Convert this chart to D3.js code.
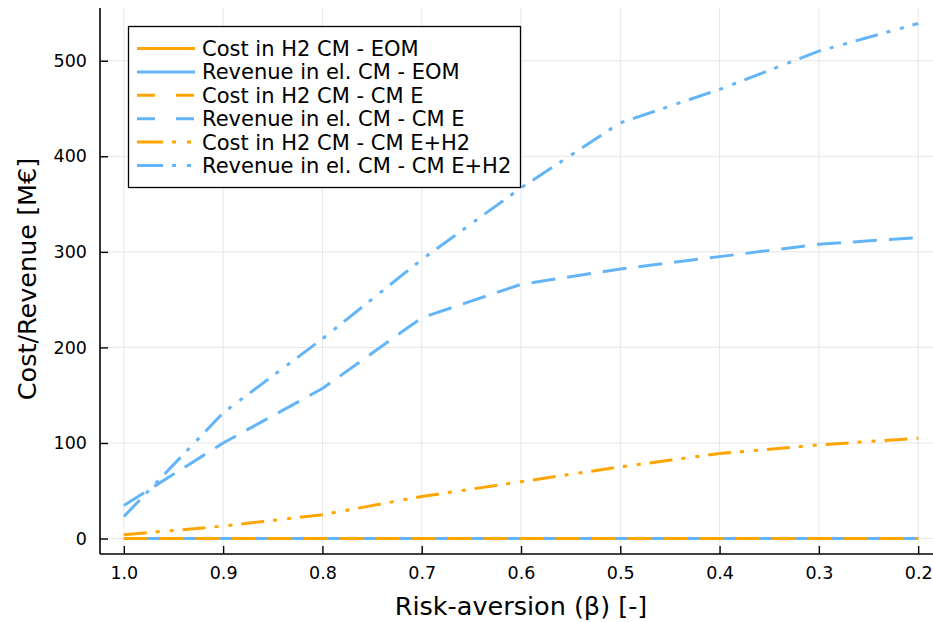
<!DOCTYPE html>
<html>
<head>
<meta charset="utf-8">
<script src="https://cdn.jsdelivr.net/npm/d3@7"></script>
<style>
  html, body { margin: 0; padding: 0; background: #fff; }
  svg { display: block; font-family: "DejaVu Sans", sans-serif; }
</style>
</head>
<body>
<svg id="chart" width="933" height="622"></svg>
<script>
// Risk-aversion levels (beta), plotted from 1.0 down to 0.2
const beta = [1.0, 0.9, 0.8, 0.7, 0.6, 0.5, 0.4, 0.3, 0.2];

// Cost / revenue per market design [M€]
const costEOM       = [0, 0, 0, 0, 0, 0, 0, 0, 0];
const revenueEOM    = [0, 0, 0, 0, 0, 0, 0, 0, 0];
const costCME       = [0, 0, 0, 0, 0, 0, 0, 0, 0];
const revenueCME    = [34.5, 100, 157, 231, 266, 282, 295, 308, 315];
const costCMEH2     = [4, 13, 25, 44, 59.5, 75, 89, 98, 105];
const revenueCMEH2  = [23, 131.5, 209, 292, 367, 435, 470, 510, 539];

const xTicks = [1.0, 0.9, 0.8, 0.7, 0.6, 0.5, 0.4, 0.3, 0.2];
const yTicks = [0, 100, 200, 300, 400, 500];

const ORANGE = "#ffa500";
const BLUE = "#63b5f8";
const DASH = "24,12";
const DASHDOTDOT = "23,9,4,10,4,9";

const series = [
  { name: "Cost in H2 CM - EOM",          values: costEOM,      color: ORANGE, dash: null },
  { name: "Revenue in el. CM - EOM",      values: revenueEOM,   color: BLUE,   dash: null },
  { name: "Cost in H2 CM - CM E",         values: costCME,      color: ORANGE, dash: DASH },
  { name: "Revenue in el. CM - CM E",     values: revenueCME,   color: BLUE,   dash: DASH },
  { name: "Cost in H2 CM - CM E+H2",      values: costCMEH2,    color: ORANGE, dash: DASHDOTDOT },
  { name: "Revenue in el. CM - CM E+H2",  values: revenueCMEH2, color: BLUE,   dash: DASHDOTDOT }
];

const FONT = "DejaVu Sans, sans-serif";
const svg = d3.select("#chart");
const plot = { left: 100, right: 933, top: 8, bottom: 554 };

// x runs right-to-left in value (1.0 on the left), 3% padding each side
const x = d3.scaleLinear().domain([1.024, 0.176]).range([100, 942]);
const y = d3.scaleLinear().domain([-16.17, 555.17]).range([plot.bottom, plot.top]);

// grid
const grid = svg.append("g");
grid.selectAll("line.vx").data(xTicks).join("line")
  .attr("x1", d => x(d)).attr("x2", d => x(d))
  .attr("y1", plot.top).attr("y2", plot.bottom)
  .attr("stroke", "#e6e6e6").attr("stroke-width", 1);
grid.selectAll("line.hy").data(yTicks).join("line")
  .attr("x1", plot.left).attr("x2", plot.right)
  .attr("y1", d => y(d)).attr("y2", d => y(d))
  .attr("stroke", "#e6e6e6").attr("stroke-width", 1);

// data lines
svg.append("clipPath").attr("id", "clip").append("rect")
  .attr("x", plot.left).attr("y", plot.top)
  .attr("width", plot.right - plot.left).attr("height", plot.bottom - plot.top);

const line = d3.line().x((d, i) => x(beta[i])).y(d => y(d));
const lines = svg.append("g").attr("clip-path", "url(#clip)");
series.forEach(s => {
  lines.append("path")
    .attr("d", line(s.values))
    .attr("fill", "none")
    .attr("stroke", s.color)
    .attr("stroke-width", 3)
    .attr("stroke-dasharray", s.dash)
    .attr("stroke-linejoin", "round");
});

// axes
const xAxis = d3.axisBottom(x).tickValues(xTicks).tickFormat(d3.format(".1f"))
  .tickSizeInner(-8).tickSizeOuter(0).tickPadding(13);
const gx = svg.append("g").attr("transform", `translate(0,${plot.bottom})`).call(xAxis);
gx.select(".domain").attr("d", `M${plot.left},0H${plot.right}`).attr("stroke", "#000").attr("stroke-width", 1.6);
gx.selectAll(".tick line").attr("stroke", "#000").attr("stroke-width", 1.4);
gx.selectAll(".tick text").attr("font-size", 17.5).attr("fill", "#000")
  .attr("font-family", FONT);

const yAxis = d3.axisLeft(y).tickValues(yTicks).tickFormat(d3.format("d"))
  .tickSizeInner(-8).tickSizeOuter(0).tickPadding(13);
const gy = svg.append("g").attr("transform", `translate(${plot.left},0)`).call(yAxis);
gy.select(".domain").attr("d", `M0,${plot.bottom}V${plot.top}`).attr("stroke", "#000").attr("stroke-width", 1.6);
gy.selectAll(".tick line").attr("stroke", "#000").attr("stroke-width", 1.4);
gy.selectAll(".tick text").attr("font-size", 17.5).attr("fill", "#000")
  .attr("font-family", FONT);

// axis titles
svg.append("text").attr("x", 521).attr("y", 615)
  .attr("text-anchor", "middle").attr("font-size", 25.5).attr("fill", "#000")
  .attr("font-family", FONT)
  .text("Risk-aversion (β) [-]");
svg.append("text").attr("transform", "translate(36,279) rotate(-90)")
  .attr("text-anchor", "middle").attr("font-size", 25.5).attr("fill", "#000")
  .attr("font-family", FONT)
  .text("Cost/Revenue [M€]");

// legend
const lg = svg.append("g");
lg.append("rect").attr("x", 128.5).attr("y", 26.5).attr("width", 392).attr("height", 161)
  .attr("fill", "#fff").attr("stroke", "#000").attr("stroke-width", 1.3);
series.forEach((s, i) => {
  const cy = 48.5 + i * 23.4;
  lg.append("line").attr("x1", 137).attr("x2", 195).attr("y1", cy).attr("y2", cy)
    .attr("stroke", s.color).attr("stroke-width", 3)
    .attr("stroke-dasharray", s.dash ? (s.dash === DASH ? "18,21" : "26,9,4,11,4,9") : null);
  lg.append("text").attr("x", 202).attr("y", cy).attr("dy", "0.36em")
    .attr("font-size", 21).attr("fill", "#000").attr("font-family", FONT).text(s.name);
});
</script>
</body>
</html>
